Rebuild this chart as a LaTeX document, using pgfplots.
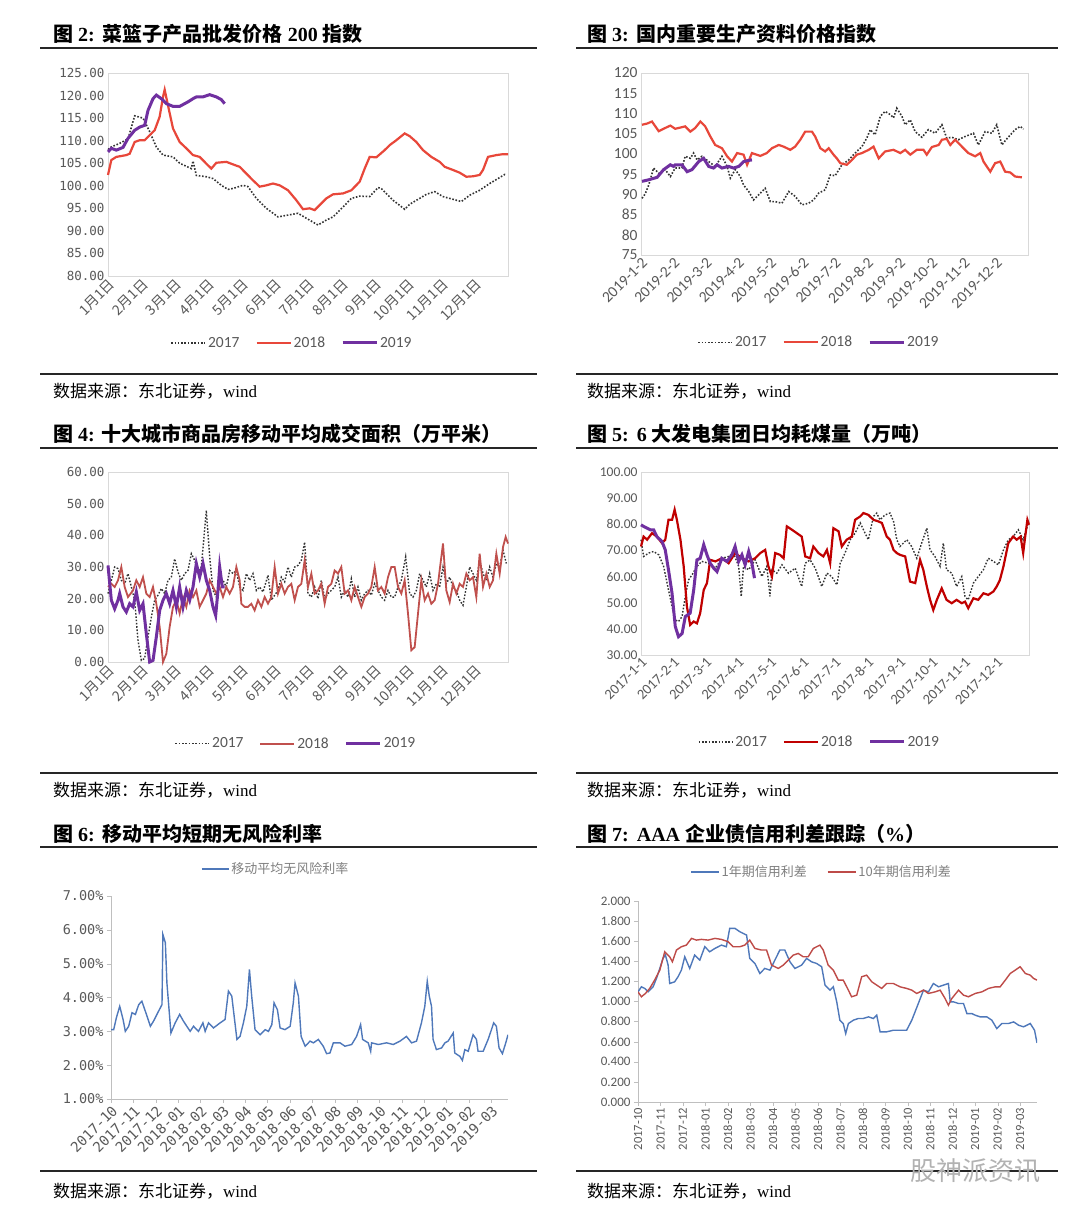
\documentclass[border=0pt]{standalone}
\usepackage{fontspec}
\usepackage{pgfplots}
\pgfplotsset{compat=1.18}
\setmainfont{Liberation Serif}
\newfontfamily\cjk{Noto Sans CJK SC}
\newfontfamily\mono{DejaVu Sans Mono}
\newfontfamily\calib{Carlito}
\definecolor{tickgray}{HTML}{595959}
\definecolor{lightgray2}{HTML}{808080}
\definecolor{framegray}{HTML}{D9D9D9}
\definecolor{axgray}{HTML}{BFBFBF}
\definecolor{redA}{HTML}{E8473A}
\definecolor{purp}{HTML}{7030A0}
\definecolor{redB}{HTML}{C0504D}
\definecolor{redC}{HTML}{C00000}
\definecolor{blueE}{HTML}{4F78BA}
\definecolor{redF}{HTML}{BE4B48}
\definecolor{dotc}{HTML}{333333}
\pgfplotsset{
  /pgf/number format/assume math mode=true,
  boxpanel/.style={scale only axis, axis line style={draw=framegray, line width=0.8pt},
    major tick length=0pt, clip=false,
    legend style={draw=none, fill=none, legend columns=3,
      /tikz/every even column/.append style={column sep=14pt}},
    legend image code/.code={\draw[##1] (0pt,0pt) -- (34pt,0pt);}},
  dotline/.style={dotc, line width=1.6pt, dash pattern=on 1.6pt off 1.7pt},
}
\begin{document}
\begin{tikzpicture}
\useasboundingbox (0,0) rectangle (1080pt,1220pt);
\fill[white] (0,0) rectangle (1080pt,1220pt);
% ---------- titles, rules, sources ----------
\def\tsize{\fontsize{20}{24}\selectfont}
\def\ssize{\fontsize{17}{20}\selectfont}
\node[anchor=base west, inner sep=0] at (53pt,1178pt) {\tsize{\cjk\bfseries 图} {\bfseries 2:}\hspace{8pt}{\cjk\bfseries 菜篮子产品批发价格} {\bfseries 200} {\cjk\bfseries 指数}};
\node[anchor=base west, inner sep=0] at (587pt,1178pt) {\tsize{\cjk\bfseries 图} {\bfseries 3:}\hspace{8pt}{\cjk\bfseries 国内重要生产资料价格指数}};
\node[anchor=base west, inner sep=0] at (53pt,778pt) {\tsize{\cjk\bfseries 图} {\bfseries 4:} {\cjk\bfseries 十大城市商品房移动平均成交面积（万平米）}};
\node[anchor=base west, inner sep=0] at (587pt,778pt) {\tsize{\cjk\bfseries 图} {\bfseries 5:}\hspace{8pt}{\bfseries 6} {\cjk\bfseries 大发电集团日均耗煤量（万吨）}};
\node[anchor=base west, inner sep=0] at (53pt,378pt) {\tsize{\cjk\bfseries 图} {\bfseries 6:}\hspace{8pt}{\cjk\bfseries 移动平均短期无风险利率}};
\node[anchor=base west, inner sep=0] at (587pt,378pt) {\tsize{\cjk\bfseries 图} {\bfseries 7:}\hspace{8pt}{\bfseries AAA} {\cjk\bfseries 企业债信用利差跟踪（}{\bfseries\%}{\cjk\bfseries ）}};
\foreach \yy in {1172,846,772,447,373,49} {
  \draw[black!85, line width=1.8pt] (40pt,\yy pt) -- (537pt,\yy pt);
  \draw[black!85, line width=1.8pt] (576pt,\yy pt) -- (1058pt,\yy pt);
}
\foreach \yy in {822,423,23} {
  \node[anchor=base west, inner sep=0] at (53pt,\yy pt) {\ssize{\cjk 数据来源：东北证券，}wind};
  \node[anchor=base west, inner sep=0] at (587pt,\yy pt) {\ssize{\cjk 数据来源：东北证券，}wind};
}
\node[anchor=center, text=black!30] at (975pt,49pt) {\fontsize{26}{28}\selectfont\cjk 股神派资讯};

% ---------- Panel 1 ----------
\begin{axis}[boxpanel, at={(108pt,944pt)}, anchor=south west, width=400pt, height=203pt,
  xmin=0, xmax=12, ymin=80, ymax=125,
  ytick={80,85,...,125},
  yticklabels={80.00,85.00,90.00,95.00,100.00,105.00,110.00,115.00,120.00,125.00},
  yticklabel style={font=\mono\fontsize{12.5}{14}\selectfont, text=tickgray},
  xtick={0,...,11},
  xticklabels={1月1日,2月1日,3月1日,4月1日,5月1日,6月1日,7月1日,8月1日,9月1日,10月1日,11月1日,12月1日},
  xticklabel style={font=\cjk\fontsize{14}{16}\selectfont, text=tickgray, rotate=45, anchor=north east, inner sep=1pt},
  legend style={at={(0.46,-0.33)}, anchor=center, font=\calib\fontsize{15.5}{17}\selectfont, text=tickgray},
]
\addplot[dotline] coordinates {(0.00,108.0)(0.10,108.6)(0.35,109.4)(0.60,110.4)(0.80,115.5)(1.05,115.0)(1.25,112.0)(1.45,108.6)(1.65,106.8)(1.95,106.4)(2.15,105.0)(2.50,103.8)(2.55,105.5)(2.65,102.3)(2.95,102.0)(3.15,101.6)(3.40,100.1)(3.60,99.2)(3.75,99.4)(4.05,100.1)(4.20,99.8)(4.45,97.2)(4.75,95.0)(5.10,93.1)(5.40,93.5)(5.70,93.9)(5.95,92.8)(6.30,91.3)(6.55,92.4)(6.75,93.1)(7.05,95.3)(7.30,97.2)(7.55,97.7)(7.85,97.6)(8.10,99.6)(8.20,99.4)(8.55,96.8)(8.90,94.8)(9.05,95.9)(9.35,97.2)(9.55,98.1)(9.80,98.7)(10.05,97.6)(10.35,97.0)(10.60,96.5)(10.85,97.9)(11.15,99.0)(11.45,100.5)(11.70,101.6)(11.90,102.5)(11.95,102.4)};
\addplot[redA, line width=2.2pt] coordinates {(0.00,102.4)(0.10,105.7)(0.25,106.4)(0.55,106.8)(0.65,107.1)(0.80,109.7)(0.95,110.1)(1.10,110.1)(1.25,111.2)(1.40,112.3)(1.55,115.3)(1.65,119.7)(1.70,121.3)(1.80,117.8)(1.95,112.7)(2.15,109.7)(2.35,108.3)(2.55,106.8)(2.75,106.4)(2.95,104.9)(3.10,103.8)(3.25,105.1)(3.55,105.3)(3.80,104.6)(3.95,104.2)(4.15,102.7)(4.35,101.2)(4.55,99.8)(4.75,100.1)(4.95,100.5)(5.15,100.1)(5.40,99.0)(5.65,96.8)(5.85,94.8)(6.05,95.0)(6.20,94.6)(6.40,96.1)(6.55,97.2)(6.75,98.1)(7.05,98.3)(7.30,99.0)(7.55,100.9)(7.70,103.8)(7.85,106.4)(8.05,106.3)(8.30,107.9)(8.45,109.0)(8.65,110.1)(8.90,111.6)(9.05,111.0)(9.25,109.7)(9.45,107.9)(9.70,106.4)(9.95,105.3)(10.10,104.2)(10.35,103.5)(10.55,102.9)(10.75,102.0)(10.95,102.1)(11.15,102.4)(11.25,103.5)(11.40,106.4)(11.65,106.8)(11.85,107.0)(12.00,107.0)};
\addplot[purp, line width=3pt] coordinates {(0.00,107.5)(0.10,108.3)(0.25,107.9)(0.45,108.5)(0.60,110.5)(0.80,112.3)(0.95,113.0)(1.10,113.4)(1.20,116.7)(1.35,119.3)(1.45,120.1)(1.60,119.3)(1.75,118.2)(1.95,117.6)(2.15,117.6)(2.40,118.6)(2.55,119.3)(2.65,119.7)(2.85,119.7)(3.05,120.2)(3.25,119.7)(3.40,119.1)(3.50,118.2)};
\legend{2017,2018,2019}
\end{axis}

% ---------- Panel 2 ----------
\begin{axis}[boxpanel, at={(641pt,965pt)}, anchor=south west, width=387pt, height=182pt,
  xmin=0, xmax=12, ymin=75, ymax=120,
  ytick={75,80,...,120},
  yticklabel style={font=\calib\fontsize{15.5}{17}\selectfont, text=tickgray},
  xtick={0,...,11},
  xticklabels={2019-1-2,2019-2-2,2019-3-2,2019-4-2,2019-5-2,2019-6-2,2019-7-2,2019-8-2,2019-9-2,2019-10-2,2019-11-2,2019-12-2},
  xticklabel style={font=\calib\fontsize{15.5}{17}\selectfont, text=tickgray, rotate=45, anchor=north east, inner sep=1pt},
  legend style={at={(0.46,-0.48)}, anchor=center, font=\calib\fontsize{15.5}{17}\selectfont, text=tickgray},
]
\addplot[dotline] coordinates {(0.03,89.0)(0.13,90.1)(0.24,92.3)(0.39,96.5)(0.55,95.2)(0.75,96.1)(0.91,94.4)(1.06,96.5)(1.27,96.5)(1.37,99.4)(1.53,98.9)(1.63,100.2)(1.74,98.5)(1.89,99.4)(2.10,98.1)(2.30,96.9)(2.51,99.4)(2.67,96.9)(2.77,94.0)(2.92,96.1)(3.08,94.4)(3.18,92.3)(3.34,90.7)(3.49,88.6)(3.65,89.9)(3.85,91.5)(4.01,88.2)(4.16,88.2)(4.37,87.8)(4.58,90.7)(4.78,89.5)(4.99,87.4)(5.20,87.8)(5.35,88.6)(5.51,90.3)(5.71,91.1)(5.87,94.8)(6.02,94.6)(6.23,97.3)(6.44,98.5)(6.64,100.2)(6.85,101.8)(7.00,103.9)(7.11,106.0)(7.26,104.7)(7.42,109.3)(7.57,110.5)(7.73,109.7)(7.83,108.9)(7.93,111.3)(8.09,109.3)(8.19,107.2)(8.35,108.4)(8.50,105.5)(8.71,104.1)(8.91,106.0)(9.12,105.1)(9.33,107.2)(9.48,103.9)(9.64,104.1)(9.84,103.5)(10.05,104.3)(10.31,105.1)(10.46,102.2)(10.67,105.5)(10.88,105.1)(11.03,107.2)(11.19,102.2)(11.34,103.7)(11.60,106.0)(11.76,106.8)(11.86,106.1)};
\addplot[redA, line width=2.2pt] coordinates {(0.03,107.2)(0.19,107.5)(0.34,108.0)(0.55,105.6)(0.75,106.4)(0.91,107.0)(1.06,106.2)(1.37,106.8)(1.53,105.5)(1.68,106.4)(1.84,108.0)(1.99,106.8)(2.15,104.3)(2.30,102.2)(2.51,101.4)(2.67,99.4)(2.82,98.1)(2.98,100.2)(3.18,99.8)(3.29,97.3)(3.44,100.2)(3.70,99.5)(3.90,100.2)(4.06,101.4)(4.27,102.2)(4.42,101.8)(4.63,101.0)(4.78,101.8)(4.94,103.5)(5.09,105.5)(5.30,105.5)(5.40,104.3)(5.56,101.4)(5.71,100.6)(5.82,101.4)(5.97,99.8)(6.07,98.9)(6.18,97.7)(6.38,97.3)(6.54,98.5)(6.69,99.8)(6.85,100.2)(7.06,101.0)(7.21,101.8)(7.37,98.9)(7.57,100.6)(7.83,101.0)(8.04,100.2)(8.19,101.0)(8.35,99.8)(8.55,101.0)(8.76,101.0)(8.86,99.8)(9.02,101.7)(9.23,102.2)(9.33,103.5)(9.48,103.7)(9.59,102.2)(9.74,103.5)(9.95,101.8)(10.15,100.2)(10.36,99.4)(10.52,100.2)(10.62,98.1)(10.83,95.6)(10.98,97.7)(11.14,98.1)(11.29,95.6)(11.45,95.4)(11.60,94.4)(11.81,94.2)};
\addplot[purp, line width=3pt] coordinates {(0.03,93.2)(0.24,93.6)(0.50,94.2)(0.70,96.1)(0.91,97.3)(1.01,96.9)(1.06,97.3)(1.27,97.3)(1.43,95.6)(1.58,96.1)(1.79,98.1)(1.94,98.9)(2.10,96.9)(2.25,96.5)(2.36,97.3)(2.51,96.5)(2.72,96.9)(2.87,96.5)(3.03,96.9)(3.18,98.1)(3.34,98.4)(3.44,98.5)};
\legend{2017,2018,2019}
\end{axis}

% ---------- Panel 3 ----------
\begin{axis}[boxpanel, at={(108pt,558pt)}, anchor=south west, width=400pt, height=190pt,
  xmin=0, xmax=12, ymin=0, ymax=60,
  ytick={0,10,...,60},
  yticklabels={0.00,10.00,20.00,30.00,40.00,50.00,60.00},
  yticklabel style={font=\mono\fontsize{12.5}{14}\selectfont, text=tickgray},
  xtick={0,...,11},
  xticklabels={1月1日,2月1日,3月1日,4月1日,5月1日,6月1日,7月1日,8月1日,9月1日,10月1日,11月1日,12月1日},
  xticklabel style={font=\cjk\fontsize{14}{16}\selectfont, text=tickgray, rotate=45, anchor=north east, inner sep=1pt},
  legend style={at={(0.47,-0.43)}, anchor=center, font=\calib\fontsize{15.5}{17}\selectfont, text=tickgray},
]
\addplot[dotline, line width=1.4pt] coordinates {(0.00,21.6)(0.10,25.8)(0.20,30.0)(0.30,29.5)(0.40,25.8)(0.50,24.7)(0.60,27.9)(0.70,23.7)(0.80,19.5)(0.90,6.8)(1.00,0.5)(1.10,1.1)(1.20,7.9)(1.30,14.2)(1.40,19.5)(1.50,21.1)(1.60,23.2)(1.70,21.6)(1.80,25.8)(1.90,26.8)(2.00,32.6)(2.10,28.4)(2.20,25.8)(2.30,27.9)(2.40,28.9)(2.50,34.2)(2.60,32.1)(2.70,28.9)(2.80,30.0)(2.95,47.9)(3.05,33.2)(3.15,22.6)(3.25,20.5)(3.35,24.7)(3.45,25.8)(3.55,23.7)(3.65,28.9)(3.75,27.9)(3.85,28.9)(3.95,23.7)(4.05,22.6)(4.15,27.9)(4.25,25.8)(4.35,27.9)(4.45,22.6)(4.55,23.7)(4.65,22.1)(4.80,27.4)(4.90,19.5)(5.00,21.1)(5.10,22.6)(5.20,26.8)(5.30,25.3)(5.40,30.0)(5.50,26.8)(5.60,30.0)(5.70,30.5)(5.80,32.1)(5.90,37.9)(6.00,21.6)(6.10,20.5)(6.20,23.7)(6.30,20.0)(6.40,25.8)(6.50,20.0)(6.60,21.6)(6.70,22.6)(6.80,23.7)(6.90,26.8)(7.00,20.5)(7.10,22.6)(7.20,20.5)(7.30,26.3)(7.40,20.5)(7.50,23.7)(7.60,19.5)(7.70,21.6)(7.80,22.6)(7.90,21.1)(8.00,24.7)(8.10,22.6)(8.20,20.5)(8.30,19.5)(8.40,22.6)(8.50,20.5)(8.60,20.5)(8.70,23.7)(8.80,25.8)(8.93,33.2)(9.05,21.6)(9.15,20.5)(9.25,22.6)(9.35,27.9)(9.45,25.8)(9.55,23.7)(9.65,27.9)(9.75,22.6)(9.85,24.7)(9.95,23.7)(10.05,30.0)(10.15,24.7)(10.25,26.8)(10.35,23.7)(10.45,22.6)(10.55,19.5)(10.65,17.9)(10.75,23.7)(10.85,30.0)(10.95,27.9)(11.05,25.8)(11.15,32.1)(11.25,27.9)(11.35,25.8)(11.45,30.0)(11.55,26.8)(11.65,31.1)(11.75,30.0)(11.85,35.3)(11.95,31.1)};
\addplot[redB, line width=1.8pt] coordinates {(0.00,23.7)(0.10,24.7)(0.20,23.7)(0.30,25.8)(0.40,30.0)(0.50,23.7)(0.60,20.5)(0.75,22.6)(0.85,25.8)(0.95,23.7)(1.05,26.8)(1.15,21.6)(1.25,20.5)(1.35,23.7)(1.45,18.4)(1.55,11.1)(1.65,0.0)(1.75,2.6)(1.85,11.1)(1.95,17.4)(2.05,19.5)(2.15,15.3)(2.25,20.5)(2.35,17.4)(2.45,22.6)(2.55,20.5)(2.65,22.6)(2.75,17.4)(2.85,19.5)(2.95,21.6)(3.05,25.8)(3.15,23.7)(3.25,21.6)(3.35,23.7)(3.45,20.5)(3.55,23.7)(3.65,21.6)(3.75,23.7)(3.85,30.0)(3.95,25.8)(4.00,18.4)(4.10,17.4)(4.20,17.4)(4.30,18.4)(4.40,16.3)(4.50,19.5)(4.60,17.4)(4.70,20.5)(4.80,18.4)(4.90,20.5)(5.00,30.0)(5.10,21.6)(5.20,24.7)(5.30,21.6)(5.40,23.7)(5.50,24.7)(5.60,19.5)(5.70,23.7)(5.80,24.7)(5.90,32.1)(6.00,23.7)(6.10,27.9)(6.20,21.6)(6.30,22.6)(6.40,24.7)(6.50,18.4)(6.60,23.7)(6.70,24.7)(6.80,28.9)(6.90,27.9)(7.00,30.0)(7.10,21.6)(7.20,22.6)(7.30,19.5)(7.40,23.7)(7.50,20.5)(7.60,17.4)(7.70,20.5)(7.80,21.6)(7.90,23.7)(8.00,30.0)(8.10,22.6)(8.20,23.7)(8.30,21.6)(8.40,26.8)(8.50,30.0)(8.60,30.0)(8.70,23.7)(8.80,21.6)(8.90,25.8)(9.00,15.3)(9.10,3.7)(9.20,4.7)(9.30,15.3)(9.40,25.8)(9.50,19.5)(9.60,21.6)(9.70,18.4)(9.80,19.5)(9.90,24.7)(10.05,37.4)(10.15,22.6)(10.25,18.9)(10.35,24.7)(10.45,21.6)(10.55,24.7)(10.65,23.7)(10.75,27.9)(10.85,25.8)(10.95,26.8)(11.05,20.5)(11.15,34.2)(11.25,23.7)(11.35,27.9)(11.45,23.7)(11.55,25.8)(11.65,34.2)(11.75,27.9)(11.85,36.3)(11.93,39.5)(12.00,37.4)};
\addplot[purp, line width=3pt] coordinates {(0.00,30.5)(0.10,19.5)(0.20,16.8)(0.30,19.5)(0.35,21.6)(0.45,17.4)(0.55,15.8)(0.65,18.4)(0.75,17.4)(0.85,22.1)(0.95,16.3)(1.05,18.4)(1.15,8.9)(1.25,0.0)(1.35,0.5)(1.45,7.9)(1.55,16.3)(1.65,19.5)(1.75,21.6)(1.85,18.4)(1.95,22.6)(2.05,17.4)(2.15,23.7)(2.25,17.4)(2.35,22.6)(2.45,19.5)(2.55,23.7)(2.65,31.1)(2.75,26.8)(2.85,31.1)(2.95,25.8)(3.05,22.6)(3.15,17.4)(3.23,14.7)(3.30,22.6)(3.35,30.0)(3.43,23.7)(3.50,23.7)};
\legend{2017,2018,2019}
\end{axis}

% ---------- Panel 4 ----------
\begin{axis}[boxpanel, at={(641pt,565pt)}, anchor=south west, width=388pt, height=183pt,
  xmin=0, xmax=12, ymin=30, ymax=100,
  ytick={30,40,...,100},
  yticklabels={30.00,40.00,50.00,60.00,70.00,80.00,90.00,100.00},
  yticklabel style={font=\calib\fontsize{13.5}{15}\selectfont, text=tickgray},
  xtick={0,...,11},
  xticklabels={2017-1-1,2017-2-1,2017-3-1,2017-4-1,2017-5-1,2017-6-1,2017-7-1,2017-8-1,2017-9-1,2017-10-1,2017-11-1,2017-12-1},
  xticklabel style={font=\calib\fontsize{14.5}{16}\selectfont, text=tickgray, rotate=45, anchor=north east, inner sep=1pt},
  legend style={at={(0.46,-0.475)}, anchor=center, font=\calib\fontsize{15.5}{17}\selectfont, text=tickgray},
]
\addplot[dotline, line width=1.4pt] coordinates {(0.00,74.1)(0.08,67.7)(0.24,69.0)(0.39,69.6)(0.55,68.3)(0.70,63.9)(0.85,54.9)(0.96,48.5)(1.06,43.4)(1.16,42.8)(1.27,44.7)(1.37,52.4)(1.47,58.7)(1.58,60.7)(1.73,63.9)(1.88,65.8)(2.09,65.1)(2.30,63.2)(2.50,67.0)(2.71,67.7)(2.86,69.0)(3.02,63.9)(3.10,52.4)(3.17,63.9)(3.33,62.6)(3.53,66.4)(3.74,60.0)(3.89,63.9)(3.99,52.4)(4.05,62.6)(4.20,61.3)(4.36,64.5)(4.56,61.3)(4.77,63.2)(4.97,56.2)(5.08,65.1)(5.23,66.4)(5.39,63.2)(5.59,56.2)(5.75,61.3)(5.90,60.0)(6.06,56.8)(6.16,65.1)(6.31,69.0)(6.47,74.1)(6.62,76.6)(6.78,80.5)(6.93,76.6)(7.03,74.1)(7.19,83.0)(7.29,84.3)(7.39,81.7)(7.55,83.6)(7.70,84.3)(7.81,81.1)(7.91,74.1)(8.01,71.5)(8.22,74.1)(8.37,71.5)(8.53,67.0)(8.68,72.8)(8.84,78.5)(8.94,70.2)(9.09,67.7)(9.25,63.9)(9.35,72.8)(9.45,62.6)(9.61,61.3)(9.76,56.2)(9.92,60.0)(10.02,52.4)(10.12,51.1)(10.28,57.5)(10.43,60.0)(10.59,62.6)(10.74,67.0)(10.90,65.8)(11.05,64.5)(11.21,70.2)(11.36,74.1)(11.51,75.3)(11.67,77.9)(11.82,74.1)(11.98,80.5)};
\addplot[redC, line width=2.2pt] coordinates {(0.00,71.5)(0.08,75.3)(0.19,74.1)(0.34,76.6)(0.49,75.3)(0.65,72.8)(0.75,74.1)(0.85,81.7)(0.96,81.7)(1.04,85.6)(1.11,81.7)(1.22,74.1)(1.32,63.9)(1.42,48.5)(1.52,41.5)(1.63,42.8)(1.73,42.1)(1.83,46.0)(1.94,54.9)(2.04,57.5)(2.14,66.4)(2.30,65.8)(2.50,67.0)(2.71,65.1)(2.91,69.0)(3.12,67.0)(3.33,65.8)(3.53,67.0)(3.69,69.0)(3.84,70.2)(3.94,63.9)(4.05,60.0)(4.15,69.0)(4.30,68.3)(4.41,67.0)(4.51,79.2)(4.67,77.9)(4.82,76.6)(4.97,75.3)(5.08,67.7)(5.23,67.0)(5.33,71.5)(5.49,69.0)(5.64,67.7)(5.75,70.2)(5.85,65.1)(5.95,78.5)(6.11,77.3)(6.21,71.5)(6.36,74.1)(6.52,75.3)(6.62,81.7)(6.78,83.0)(6.88,84.3)(7.03,83.6)(7.19,81.7)(7.34,81.1)(7.45,80.5)(7.60,75.3)(7.70,74.1)(7.81,70.2)(7.91,69.0)(8.01,68.3)(8.17,67.7)(8.32,58.1)(8.48,57.5)(8.63,66.4)(8.73,62.6)(8.84,56.2)(8.94,51.1)(9.04,47.2)(9.15,51.1)(9.30,55.5)(9.45,51.1)(9.61,49.8)(9.76,51.1)(9.92,49.8)(10.02,50.4)(10.12,47.9)(10.28,51.7)(10.43,51.1)(10.59,53.6)(10.74,53.0)(10.90,54.3)(11.00,56.2)(11.10,58.7)(11.21,63.9)(11.36,72.8)(11.51,75.3)(11.62,74.1)(11.74,75.3)(11.82,69.0)(11.87,74.1)(11.95,81.7)(12.00,79.8)};
\addplot[purp, line width=3pt] coordinates {(0.00,79.8)(0.08,79.2)(0.19,78.5)(0.29,77.9)(0.39,77.9)(0.49,75.3)(0.65,73.4)(0.75,70.2)(0.85,62.6)(0.96,53.6)(1.06,40.9)(1.16,37.0)(1.27,38.2)(1.37,44.7)(1.52,46.0)(1.63,54.9)(1.73,66.4)(1.83,67.0)(1.94,72.2)(2.04,68.3)(2.14,65.1)(2.25,63.2)(2.35,61.9)(2.50,67.0)(2.66,65.8)(2.81,68.3)(2.91,71.5)(3.02,65.8)(3.12,68.3)(3.22,64.5)(3.33,69.6)(3.43,65.1)(3.51,59.4)};
\legend{2017,2018,2019}
\end{axis}

% ---------- Panel 5 ----------
\begin{axis}[scale only axis, at={(111pt,121pt)}, anchor=south west, width=397pt, height=203pt,
  axis x line*=bottom, axis y line*=left, axis line style={draw=axgray, line width=0.8pt},
  tick align=outside, major tick length=4pt, tick style={draw=axgray},
  xmin=0, xmax=17.75, ymin=1, ymax=7,
  ytick={1,...,7},
  yticklabels={1.00\%,2.00\%,3.00\%,4.00\%,5.00\%,6.00\%,7.00\%},
  yticklabel style={font=\mono\fontsize{13.5}{15}\selectfont, text=tickgray},
  xtick={0,...,17},
  xticklabels={2017-10,2017-11,2017-12,2018-01,2018-02,2018-03,2018-04,2018-05,2018-06,2018-07,2018-08,2018-09,2018-10,2018-11,2018-12,2019-01,2019-02,2019-03},
  xticklabel style={font=\mono\fontsize{14}{16}\selectfont, text=tickgray, rotate=45, anchor=north east, inner sep=1pt},
  legend style={draw=none, fill=none, at={(0.415,1.133)}, anchor=center, font=\cjk\fontsize{13}{15}\selectfont, text=lightgray2},
  legend image code/.code={\draw[#1] (0pt,0pt) -- (27pt,0pt);},
]
\addplot[blueE, line width=1.4pt] coordinates {(0.00,3.05)(0.12,3.05)(0.24,3.40)(0.39,3.74)(0.54,3.35)(0.64,3.00)(0.79,3.15)(0.94,3.55)(1.09,3.50)(1.24,3.79)(1.38,3.89)(1.61,3.45)(1.76,3.15)(1.90,3.30)(2.13,3.60)(2.28,3.79)(2.32,5.86)(2.43,5.62)(2.50,4.43)(2.68,2.95)(2.87,3.25)(3.07,3.50)(3.24,3.30)(3.54,3.00)(3.69,3.15)(3.91,3.00)(4.11,3.25)(4.21,3.00)(4.36,3.25)(4.58,3.10)(4.88,3.25)(5.10,3.35)(5.25,4.19)(5.40,4.04)(5.63,2.76)(5.77,2.85)(5.92,3.25)(6.07,3.74)(6.19,4.83)(6.29,4.04)(6.44,3.05)(6.67,2.90)(6.89,3.05)(7.04,3.00)(7.19,3.20)(7.29,3.84)(7.44,3.64)(7.56,3.10)(7.78,3.05)(8.01,3.15)(8.15,3.84)(8.23,4.43)(8.38,4.04)(8.50,2.85)(8.68,2.56)(8.90,2.71)(9.05,2.66)(9.27,2.76)(9.49,2.56)(9.64,2.34)(9.79,2.36)(9.94,2.66)(10.24,2.66)(10.46,2.56)(10.76,2.61)(10.98,2.85)(11.16,3.20)(11.25,2.76)(11.50,2.66)(11.61,2.41)(11.65,2.66)(11.95,2.61)(12.32,2.66)(12.62,2.61)(12.92,2.71)(13.21,2.85)(13.44,2.66)(13.66,2.71)(13.88,3.25)(14.03,3.74)(14.14,4.48)(14.23,4.04)(14.33,3.74)(14.40,2.76)(14.55,2.46)(14.78,2.51)(14.93,2.66)(15.07,2.71)(15.30,2.95)(15.37,2.36)(15.60,2.26)(15.71,2.14)(15.82,2.46)(15.97,2.41)(16.19,2.90)(16.34,2.76)(16.41,2.41)(16.64,2.41)(16.86,2.76)(17.01,3.05)(17.11,3.25)(17.23,3.15)(17.35,2.51)(17.50,2.34)(17.65,2.66)(17.75,2.90)};
\addlegendentry{移动平均无风险利率}
\end{axis}

% ---------- Panel 6 ----------
\begin{axis}[scale only axis, at={(638pt,118pt)}, anchor=south west, width=399pt, height=201pt,
  axis x line*=bottom, axis y line*=left, axis line style={draw=axgray, line width=0.8pt},
  tick align=outside, major tick length=4pt, tick style={draw=axgray},
  xmin=0, xmax=17.75, ymin=0, ymax=2,
  ytick={0,0.2,...,2.01},
  yticklabels={0.000,0.200,0.400,0.600,0.800,1.000,1.200,1.400,1.600,1.800,2.000},
  yticklabel style={font=\calib\fontsize{13}{15}\selectfont, text=tickgray},
  xtick={0,...,17},
  xticklabels={2017-10,2017-11,2017-12,2018-01,2018-02,2018-03,2018-04,2018-05,2018-06,2018-07,2018-08,2018-09,2018-10,2018-11,2018-12,2019-01,2019-02,2019-03},
  xticklabel style={font=\calib\fontsize{12.5}{14}\selectfont, text=tickgray, rotate=90, anchor=east, inner sep=2pt},
  legend style={draw=none, fill=none, at={(0.46,1.144)}, anchor=center, font=\cjk\fontsize{13}{15}\selectfont, text=lightgray2, legend columns=2, /tikz/every even column/.append style={column sep=18pt}},
  legend image code/.code={\draw[#1] (0pt,0pt) -- (28pt,0pt);},
]
\addplot[blueE, line width=1.4pt] coordinates {(0.00,1.096)(0.15,1.146)(0.30,1.130)(0.45,1.096)(0.67,1.146)(0.82,1.229)(0.97,1.329)(1.11,1.429)(1.22,1.462)(1.34,1.362)(1.41,1.179)(1.63,1.196)(1.78,1.246)(1.93,1.312)(2.08,1.445)(2.30,1.329)(2.52,1.462)(2.75,1.412)(2.97,1.545)(3.19,1.495)(3.42,1.528)(3.71,1.561)(3.93,1.545)(4.08,1.728)(4.31,1.728)(4.53,1.694)(4.83,1.661)(4.97,1.429)(5.20,1.379)(5.42,1.279)(5.64,1.329)(5.87,1.312)(6.09,1.412)(6.31,1.512)(6.53,1.512)(6.76,1.395)(6.98,1.329)(7.28,1.362)(7.50,1.429)(7.72,1.395)(7.94,1.379)(8.17,1.346)(8.32,1.163)(8.54,1.113)(8.69,1.146)(8.84,0.997)(8.98,0.814)(9.13,0.781)(9.24,0.681)(9.36,0.781)(9.58,0.814)(9.80,0.831)(10.02,0.831)(10.25,0.847)(10.47,0.831)(10.62,0.864)(10.77,0.698)(11.06,0.698)(11.36,0.714)(11.66,0.714)(11.95,0.714)(12.18,0.814)(12.47,0.980)(12.70,1.113)(12.92,1.096)(13.14,1.179)(13.37,1.146)(13.59,1.163)(13.81,1.179)(13.89,0.997)(14.03,0.997)(14.26,0.980)(14.48,0.980)(14.63,0.880)(14.85,0.880)(15.00,0.864)(15.22,0.847)(15.52,0.847)(15.74,0.814)(15.96,0.731)(16.19,0.781)(16.48,0.781)(16.71,0.797)(16.93,0.764)(17.15,0.748)(17.45,0.781)(17.64,0.714)(17.75,0.588)};
\addlegendentry{1年期信用利差}
\addplot[redF, line width=1.4pt] coordinates {(0.00,1.096)(0.15,1.047)(0.33,1.080)(0.52,1.130)(0.74,1.213)(0.97,1.312)(1.19,1.495)(1.41,1.445)(1.53,1.395)(1.71,1.512)(1.93,1.545)(2.15,1.561)(2.38,1.628)(2.60,1.611)(2.82,1.618)(3.12,1.611)(3.42,1.628)(3.71,1.618)(4.01,1.595)(4.23,1.545)(4.53,1.545)(4.75,1.561)(4.97,1.611)(5.20,1.528)(5.49,1.512)(5.72,1.512)(5.94,1.362)(6.24,1.329)(6.46,1.362)(6.68,1.412)(6.91,1.462)(7.13,1.478)(7.35,1.445)(7.57,1.445)(7.80,1.528)(8.09,1.561)(8.24,1.512)(8.46,1.362)(8.69,1.312)(8.91,1.213)(9.13,1.213)(9.36,1.113)(9.50,1.047)(9.73,1.063)(9.95,1.246)(10.17,1.262)(10.40,1.196)(10.62,1.163)(10.84,1.130)(11.06,1.179)(11.36,1.179)(11.66,1.146)(11.95,1.130)(12.18,1.113)(12.40,1.080)(12.70,1.113)(12.92,1.080)(13.22,1.096)(13.44,1.113)(13.66,1.030)(13.81,0.963)(13.96,1.030)(14.26,1.113)(14.48,1.063)(14.70,1.047)(15.00,1.080)(15.30,1.096)(15.59,1.130)(15.89,1.146)(16.11,1.146)(16.34,1.213)(16.56,1.279)(16.78,1.312)(17.00,1.346)(17.23,1.279)(17.45,1.262)(17.60,1.229)(17.75,1.213)};
\addlegendentry{10年期信用利差}
\end{axis}
\end{tikzpicture}
\end{document}
